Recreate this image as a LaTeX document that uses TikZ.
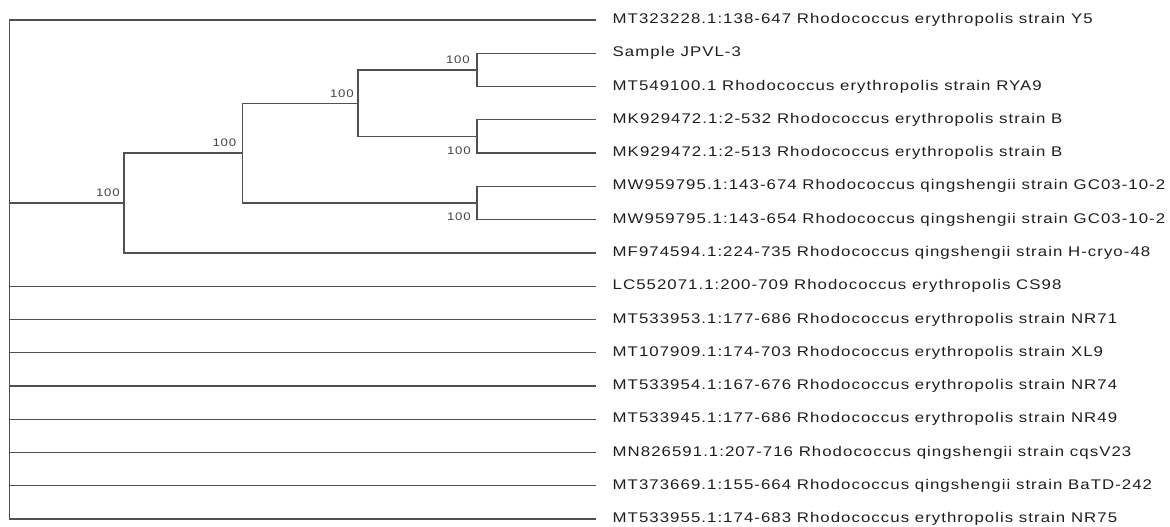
\documentclass[tikz,border=0pt]{standalone}
\usepackage{fontspec}
\usepackage{xcolor}
\usetikzlibrary{positioning}
\newfontfamily\leaffont[FakeStretch=1.2, LetterSpace=7.5]{Liberation Sans}
\newfontfamily\bootfont[FakeStretch=1.2, LetterSpace=8]{Liberation Sans}
\definecolor{bk90}{HTML}{1E1E1E}
\definecolor{bk70}{HTML}{505050}
\definecolor{bk60}{HTML}{444444}
\tikzset{
  branch/.style={draw=bk70, line width=1.3pt},
  leaflabel/.style={
    anchor=west, inner xsep=16.5pt, inner ysep=0pt,
    font=\leaffont\fontsize{14}{16}\selectfont, text=bk90
  },
  bootlabel/.style={
    anchor=east, inner sep=0pt,
    font=\bootfont\fontsize{11}{12}\selectfont, text=bk60
  },
}

\begin{document}
\begin{tikzpicture}[x=1pt, y=-1pt]
  \useasboundingbox (0,0) rectangle (1170,527);
  % internal nodes
  \coordinate (root) at (9.3,203.0);
  \coordinate (cA) at (124,203.0);
  \coordinate (cB) at (242.5,153.1);
  \coordinate (cC) at (358,103.2);
  \coordinate (cD1) at (477,69.9);
  \coordinate (cD2) at (477,136.45);
  \coordinate (cE) at (477,203.0);
  % leaves
  \node[leaflabel] (y5) at (596,20.00) {MT323228.1:138-647 Rhodococcus erythropolis strain Y5};
  \node[leaflabel] (jpvl) at (596,53.27) {Sample JPVL-3};
  \node[leaflabel] (rya9) at (596,86.54) {MT549100.1 Rhodococcus erythropolis strain RYA9};
  \node[leaflabel] (mk532) at (596,119.81) {MK929472.1:2-532 Rhodococcus erythropolis strain B};
  \node[leaflabel] (mk513) at (596,153.08) {MK929472.1:2-513 Rhodococcus erythropolis strain B};
  \node[leaflabel] (mw674) at (596,186.35) {MW959795.1:143-674 Rhodococcus qingshengii strain GC03-10-2};
  \node[leaflabel] (mw654) at (596,219.62) {MW959795.1:143-654 Rhodococcus qingshengii strain GC03-10-2};
  \node[leaflabel] (mf) at (596,252.89) {MF974594.1:224-735 Rhodococcus qingshengii strain H-cryo-48};
  \node[leaflabel] (cs98) at (596,286.16) {LC552071.1:200-709 Rhodococcus erythropolis CS98};
  \node[leaflabel] (nr71) at (596,319.43) {MT533953.1:177-686 Rhodococcus erythropolis strain NR71};
  \node[leaflabel] (xl9) at (596,352.70) {MT107909.1:174-703 Rhodococcus erythropolis strain XL9};
  \node[leaflabel] (nr74) at (596,385.97) {MT533954.1:167-676 Rhodococcus erythropolis strain NR74};
  \node[leaflabel] (nr49) at (596,419.24) {MT533945.1:177-686 Rhodococcus erythropolis strain NR49};
  \node[leaflabel] (cqs) at (596,452.51) {MN826591.1:207-716 Rhodococcus qingshengii strain cqsV23};
  \node[leaflabel] (batd) at (596,485.78) {MT373669.1:155-664 Rhodococcus qingshengii strain BaTD-242};
  \node[leaflabel] (nr75) at (596,519.05) {MT533955.1:174-683 Rhodococcus erythropolis strain NR75};
  % branches
  \draw[branch] (root) |- (y5.west);
  \draw[branch] (root) -- (cA);
  \draw[branch] (root) |- (cs98.west);
  \draw[branch] (root) |- (nr71.west);
  \draw[branch] (root) |- (xl9.west);
  \draw[branch] (root) |- (nr74.west);
  \draw[branch] (root) |- (nr49.west);
  \draw[branch] (root) |- (cqs.west);
  \draw[branch] (root) |- (batd.west);
  \draw[branch] (root) |- (nr75.west);
  \draw[branch] (cA) |- (cB);
  \draw[branch] (cA) |- (mf.west);
  \draw[branch] (cB) |- (cC);
  \draw[branch] (cB) |- (cE);
  \draw[branch] (cC) |- (cD1);
  \draw[branch] (cC) |- (cD2);
  \draw[branch] (cD1) |- (jpvl.west);
  \draw[branch] (cD1) |- (rya9.west);
  \draw[branch] (cD2) |- (mk532.west);
  \draw[branch] (cD2) |- (mk513.west);
  \draw[branch] (cE) |- (mw674.west);
  \draw[branch] (cE) |- (mw654.west);
  % bootstrap values
  \node[bootlabel] (bA) at ([xshift=-4pt, yshift=10pt]cA) {100};
  \node[bootlabel] (bB) at ([xshift=-6pt, yshift=10.5pt]cB) {100};
  \node[bootlabel] (bC) at ([xshift=-4pt, yshift=9.5pt]cC) {100};
  \node[bootlabel] (bD1) at ([xshift=-7pt, yshift=10pt]cD1) {100};
  \node[bootlabel] (bD2) at ([xshift=-6pt, yshift=2.5pt]cD2 |- mk513.west) {100};
  \node[bootlabel] (bE) at ([xshift=-6pt, yshift=2.5pt]cE |- mw654.west) {100};
\end{tikzpicture}
\end{document}
